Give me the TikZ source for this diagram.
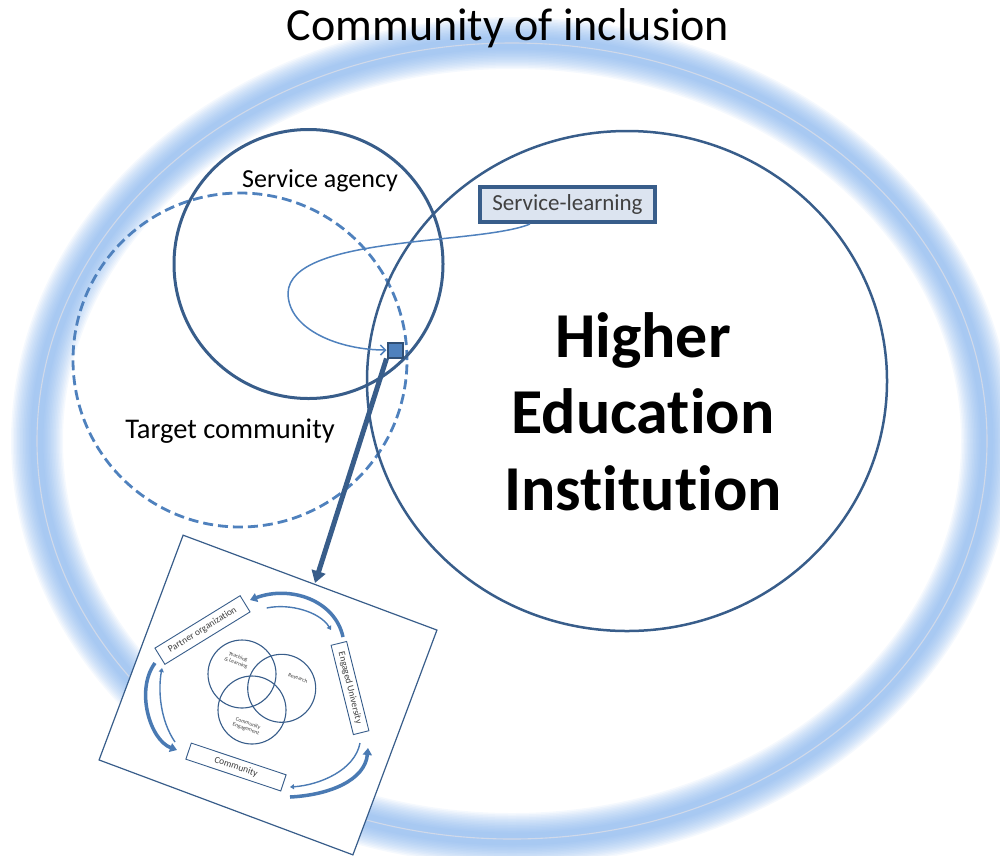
\documentclass[tikz,border=0pt]{standalone}
\usepackage{fontspec}
\setmainfont[Ligatures=NoCommon]{Carlito}
\usetikzlibrary{arrows.meta,shapes.geometric,calc}
\definecolor{dkb}{RGB}{56,93,138}
\definecolor{acc}{RGB}{79,129,189}
\definecolor{glw}{RGB}{128,176,236}
\definecolor{ringline}{RGB}{208,217,233}
\definecolor{slfill}{RGB}{220,228,240}
\definecolor{txtg}{RGB}{64,64,64}
\begin{document}
\begin{tikzpicture}[x=1pt,y=-1pt,
  ring/.style={glw},
  bigcirc/.style={circle,draw=dkb,inner sep=0pt},
  ibox/.style={draw=dkb,line width=0.9pt,fill=white,inner sep=1pt,text=txtg,font=\fontsize{9.5}{10}\selectfont},
  venn/.style={circle,draw=dkb,line width=1.1pt,minimum size=68pt,inner sep=0pt},
  vlab/.style={text=txtg,align=center,rotate=-20,font=\fontsize{5.5}{6}\selectfont},
  thickarr/.style={acc!80!dkb,line width=3.5pt,-{Triangle[width=9pt,length=7pt]}},
  thinarr/.style={acc!80!dkb,line width=1.4pt,-{Triangle[width=5pt,length=4pt]}}
]
\useasboundingbox (0,0) rectangle (1000,855);
% glowing ring of the community of inclusion
\foreach \w in {52,49,...,13}
  \draw[ring, line width=\w pt, opacity=0.08] (512,441) ellipse [x radius=475, y radius=398];
\draw[ringline, line width=1.1pt] (512,441) ellipse [x radius=475, y radius=398];

\node[anchor=base, font=\fontsize{46}{50}\selectfont] (title) at (508,40) {Community of inclusion};

% circles
\node[circle, draw=acc, line width=2.8pt, dash pattern=on 10pt off 5pt, minimum size=334pt, inner sep=0pt] (tc) at (240,360) {};
\node[bigcirc, line width=3pt, minimum size=269pt] (sa) at (308.5,264) {};
\node[ellipse, draw=dkb, line width=2.5pt, minimum width=520pt, minimum height=500pt, inner sep=0pt] (hei) at (627,381) {};

\node[anchor=base, font=\fontsize{26}{28}\selectfont] (salab) at (320,187) {Service agency};
\node[anchor=base, font=\fontsize{28.5}{30}\selectfont] (tclab) at (230,438) {Target community};
\node[anchor=base, font=\bfseries\fontsize{64}{76.5}\selectfont, align=center] (heilab) at (643,510) {Higher\\Education\\Institution};

% service-learning
\node[draw=dkb, line width=4pt, fill=slfill, minimum width=175pt, minimum height=35pt, inner sep=0pt, text=txtg, font=\fontsize{23}{25}\selectfont] (sl) at (567.5,204.5) {Service-learning};
\node[draw=dkb!85!black, line width=2pt, fill=acc, minimum size=15pt, inner sep=0pt] (sq) at (395,350) {};
\coordinate (slout) at ($(sl.south west)!0.29!(sl.south east)$);
\draw[acc, line width=1.5pt, -{Straight Barb[length=5pt,width=10pt]}] (slout) .. controls (480,245) and (290,235) .. (288,293) .. controls (288,330) and (340,350) .. (sq.west);

% embedded diagram
\node[draw=dkb, line width=1.2pt, fill=white, minimum width=271pt, minimum height=240pt, inner sep=0pt, rotate=-20.5] (img) at (268,695) {};
\coordinate (tipc) at (315,583);
\draw[dkb, line width=5pt, -{Triangle[width=14pt,length=12pt]}] (sq.south west) -- (tipc);

\node[ibox, rotate=31.6, minimum width=100pt, minimum height=19pt] (po) at (202.5,630) {Partner organization};
\node[ibox, rotate=-76, minimum width=92pt, minimum height=16pt] (eu) at (350,688) {Engaged University};
\node[ibox, rotate=-18.5, minimum width=100pt, minimum height=17pt] (cm) at (236,767) {Community};

\node[venn] (v1) at (242,674) {};
\node[venn] (v2) at (281.7,688.3) {};
\node[venn] (v3) at (252,710) {};
\node[vlab] (l1) at (237,660) {Teaching\\\& Learning};
\node[vlab] (l2) at (298,678) {Research};
\node[vlab] (l3) at (247,726) {Community\\Engagement};

\coordinate (a1s) at (343,637); \coordinate (a1e) at (250,600);
\coordinate (a2s) at (266.7,608); \coordinate (a2e) at (331,630);
\coordinate (a3s) at (155,663); \coordinate (a3e) at (177,750);
\coordinate (a4s) at (175,742); \coordinate (a4e) at (162,668);
\coordinate (a5s) at (290,797); \coordinate (a5e) at (368,748);
\coordinate (a6s) at (360,743); \coordinate (a6e) at (290,787);
\draw[thickarr] (a1s) .. controls (335,600) and (290,585) .. (a1e);
\draw[thinarr] (a2s) .. controls (290,603) and (320,612) .. (a2e);
\draw[thickarr] (a3s) .. controls (135,690) and (150,740) .. (a3e);
\draw[thinarr] (a4s) .. controls (160,720) and (158,690) .. (a4e);
\draw[thickarr] (a5s) .. controls (330,795) and (365,780) .. (a5e);
\draw[thinarr] (a6s) .. controls (355,770) and (320,785) .. (a6e);
\end{tikzpicture}
\end{document}
